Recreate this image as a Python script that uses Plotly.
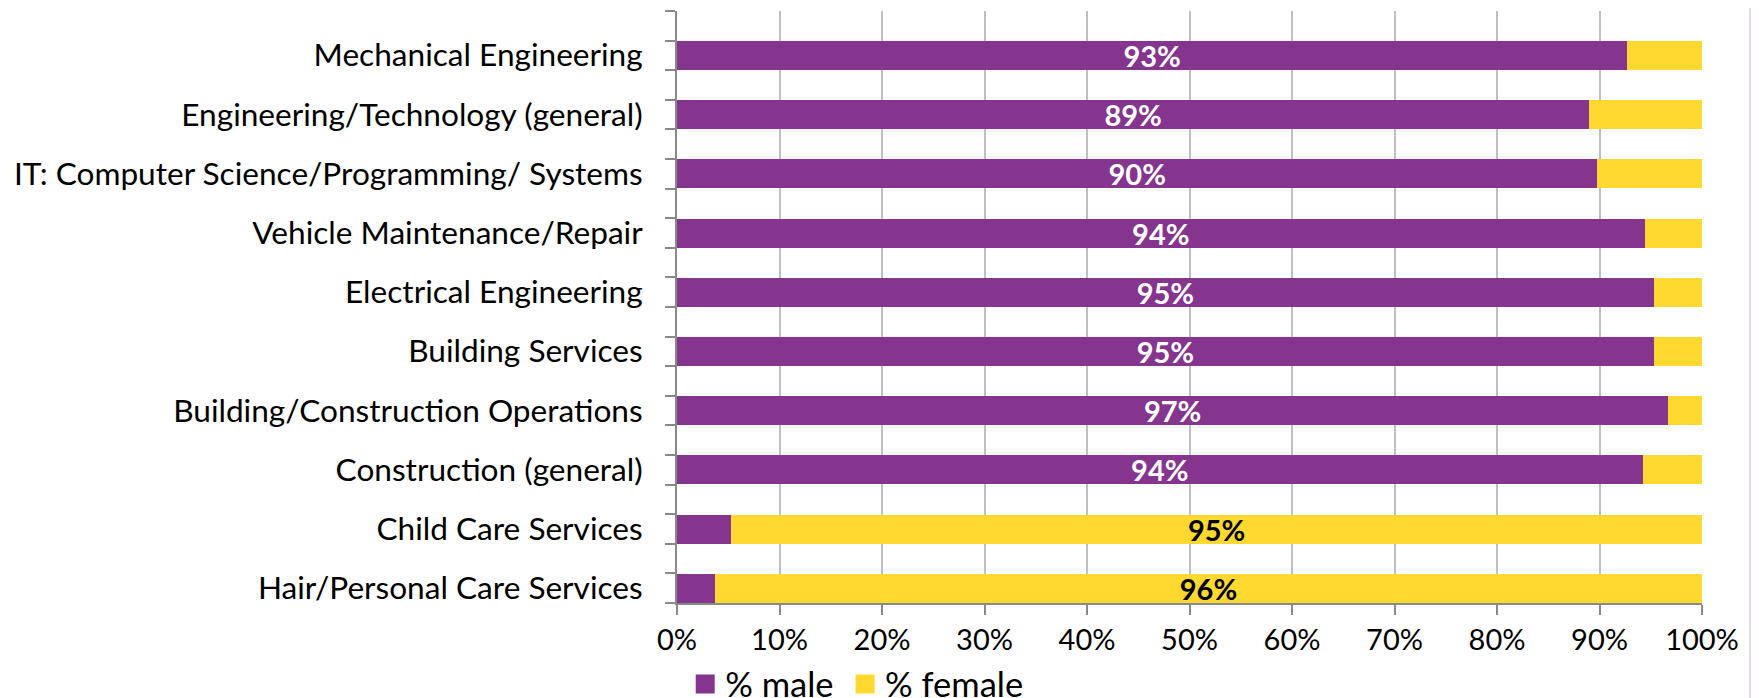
import plotly.graph_objects as go

categories = [
    "Mechanical Engineering",
    "Engineering/Technology (general)",
    "IT: Computer Science/Programming/ Systems",
    "Vehicle Maintenance/Repair",
    "Electrical Engineering",
    "Building Services",
    "Building/Construction Operations",
    "Construction (general)",
    "Child Care Services",
    "Hair/Personal Care Services",
]
pct_male = [92.7, 89.0, 89.8, 94.4, 95.3, 95.3, 96.7, 94.2, 5.3, 3.7]
pct_female = [round(100 - v, 1) for v in pct_male]
male_labels = ["93%", "89%", "90%", "94%", "95%", "95%", "97%", "94%", "", ""]
female_labels = ["", "", "", "", "", "", "", "", "95%", "96%"]
x_ticks = [0, 10, 20, 30, 40, 50, 60, 70, 80, 90, 100]
x_tick_labels = [f"{v}%" for v in x_ticks]

PURPLE = "#85358E"
YELLOW = "#FFD92F"
GRID = "#BFBFBF"
AXIS = "#898989"
FONT = "Lato"

ypos = list(range(len(categories)))

fig = go.Figure()
fig.add_trace(go.Bar(
    y=ypos, x=pct_male, orientation="h", name="% male",
    marker=dict(color=PURPLE, line=dict(width=0)),
    text=male_labels, textposition="inside", insidetextanchor="middle",
    constraintext="none", textangle=0,
    textfont=dict(family=FONT, size=29, color="white", weight="bold"),
    showlegend=False, hoverinfo="skip",
))
fig.add_trace(go.Bar(
    y=ypos, x=pct_female, orientation="h", name="% female",
    marker=dict(color=YELLOW, line=dict(width=0)),
    text=female_labels, textposition="inside", insidetextanchor="middle",
    constraintext="none", textangle=0,
    textfont=dict(family=FONT, size=29, color="black", weight="bold"),
    showlegend=False, hoverinfo="skip",
))
# legend entries (one legend box each, to match spacing)
for nm, col, lg in [("% male", PURPLE, "legend"), ("% female", YELLOW, "legend2")]:
    fig.add_trace(go.Scatter(
        x=[None], y=[None], mode="markers", name=nm, legend=lg,
        marker=dict(symbol="square", size=16, color=col, line=dict(color=col, width=3)),
    ))

n = len(categories)
minor_vals = [-0.75 + 0.5 * k for k in range(2 * n + 1)]

W, H = 1751, 690  # page body adds 8px offset
L, R, T, B = 669, 57, 3, 95

legend_common = dict(
    orientation="h", xref="paper", xanchor="left",
    yref="container", y=1 - 676 / H, yanchor="middle",
    font=dict(family=FONT, size=34.5, color="black"),
    itemsizing="trace", bgcolor="rgba(0,0,0,0)", itemwidth=30,
)

fig.update_layout(
    width=W, height=H,
    margin=dict(l=L, r=R, t=T, b=B, autoexpand=False),
    barmode="stack", bargap=0.51,
    plot_bgcolor="white", paper_bgcolor="white",
    font=dict(family=FONT, color="black"),
    legend=dict(x=0.008, **legend_common),
    legend2=dict(x=0.164, **legend_common),
    xaxis=dict(
        range=[0, 100], tickmode="array", tickvals=x_ticks, ticktext=x_tick_labels,
        showgrid=True, gridcolor=GRID, gridwidth=2,
        showline=True, linecolor=AXIS, linewidth=2,
        ticks="outside", ticklen=10, tickwidth=2, tickcolor=AXIS,
        tickfont=dict(family=FONT, size=29, color="black"),
        zeroline=False, fixedrange=True, automargin=False,
    ),
    yaxis=dict(
        range=[n - 0.75, -0.75], tickmode="array", tickvals=ypos, ticktext=categories,
        showgrid=False, zeroline=False,
        showline=True, linecolor=AXIS, linewidth=2,
        ticks="", ticklabelstandoff=26,
        minor=dict(tickmode="array", tickvals=minor_vals, ticks="outside",
                   ticklen=10, tickwidth=2, tickcolor=AXIS, showgrid=False),
        tickfont=dict(family=FONT, size=31.6, color="black"),
        fixedrange=True, automargin=False,
    ),
    shapes=[dict(
        type="rect", xref="paper", yref="paper",
        x0=(1741 - L) / 1025, x1=(W + 1 - L) / 1025,
        y0=-B / 592, y1=1 + T / 592,
        fillcolor="#E4DAE9", line=dict(width=0), layer="below",
    )],
)

fig.write_html("out.html")
